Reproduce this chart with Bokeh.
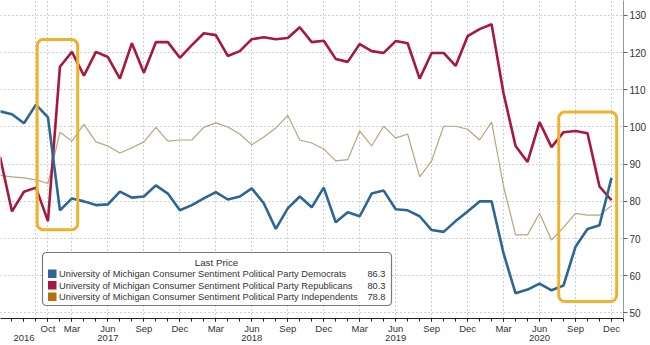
from bokeh.plotting import figure
from bokeh.models import Range1d, FixedTicker, BoxAnnotation, Label
from bokeh.embed import file_html
from bokeh.resources import INLINE

# observation index: 0 = Oct 2016, 2 = Mar 2017, then monthly to 47 = Dec 2020
obs = list(range(-4, 48))

democrats = [104.2, 103.4, 101.0, 106.0, 102.6, 77.6, 80.8, 80.0, 79.0, 79.2,
             82.6, 81.0, 81.3, 84.3, 82.1, 77.6, 79.0, 80.8, 82.5, 80.5,
             81.3, 83.5, 79.5, 72.6, 78.1, 81.3, 78.4, 83.7, 74.4, 77.1,
             76.0, 82.1, 82.9, 77.9, 77.6, 76.0, 72.3, 71.8, 74.7, 77.3,
             80.0, 80.0, 66.0, 55.3, 56.3, 57.9, 56.1, 57.4, 67.8, 72.6,
             73.6, 86.3]
republicans = [92.0, 77.3, 82.6, 83.7, 74.7, 116.2, 120.2, 113.8, 120.2, 118.8,
               113.0, 122.5, 114.6, 122.8, 122.8, 118.6, 122.0, 125.2, 124.7, 119.1,
               120.4, 123.6, 124.1, 123.6, 123.9, 126.8, 122.8, 123.2, 118.3, 117.5,
               122.3, 120.4, 119.9, 123.1, 122.5, 113.0, 119.9, 119.9, 116.4, 124.4,
               126.3, 127.6, 109.0, 94.9, 90.6, 101.3, 94.6, 98.6, 98.9, 98.3,
               84.0, 80.3]
independents = [87.0, 86.6, 86.3, 85.8, 84.8, 98.6, 96.2, 100.7, 96.0, 94.9,
                93.0, 94.4, 96.0, 99.9, 96.2, 96.5, 96.5, 99.9, 101.1, 100.0,
                98.1, 95.2, 97.3, 99.7, 103.1, 96.5, 95.7, 94.1, 90.9, 91.2,
                98.9, 94.9, 100.2, 97.0, 98.1, 86.6, 90.9, 100.2, 100.2, 99.4,
                96.5, 101.3, 84.0, 71.0, 71.0, 76.8, 69.6, 73.0, 76.8, 76.3,
                76.3, 78.8]

tick_pos = [-2, 0, 2, 5, 8, 11, 14, 17, 20, 23, 26, 29, 32, 35, 38, 41, 44, 47]
tick_text = [" \n2016", "Oct", "Mar", "Jun\n2017", "Sep", "Dec", "Mar", "Jun\n2018", "Sep",
             "Dec", "Mar", "Jun\n2019", "Sep", "Dec", "Mar", "Jun\n2020", "Sep", "Dec"]
grid_pos = [-1, 0, 2, 5, 8, 11, 14, 17, 20, 23, 26, 29, 32, 35, 38, 41, 44, 47]
y_ticks = [50, 60, 70, 80, 90, 100, 110, 120, 130]

series_names = ["University of Michigan Consumer Sentiment Political Party Democrats",
                "University of Michigan Consumer Sentiment Political Party Republicans",
                "University of Michigan Consumer Sentiment Political Party Independents"]

BLUE = "#2c6696"
RED = "#a8173c"
TAN = "#b8a47c"
TAN_KEY = "#b3700f"
ORANGE = "#f0b22c"

FW, FH = 623, 318
PXU = 11.99                      # pixels per observation in the reference
X0 = -4 + 0.5 / PXU
X1 = X0 + FW / PXU
Y1 = 134.0
Y0 = Y1 - FH / 3.72

p = figure(frame_width=FW, frame_height=FH, output_backend="svg", toolbar_location=None,
           x_range=Range1d(X0, X1), y_range=Range1d(Y0, Y1),
           y_axis_location="right", min_border=0, min_border_left=0,
           min_border_top=0, min_border_right=0, min_border_bottom=0,
           background_fill_color="white", border_fill_color="white")
p.outline_line_color = None

# grids
p.xgrid.ticker = FixedTicker(ticks=grid_pos)
p.ygrid.ticker = FixedTicker(ticks=y_ticks)
for g in (p.xgrid, p.ygrid):
    g.grid_line_color = "#a0a0a0"
    g.grid_line_dash = "1 3"
    g.grid_line_width = 1

# x axis
xa = p.xaxis[0]
xa.ticker = FixedTicker(ticks=tick_pos, minor_ticks=list(range(-4, 49)))
xa.major_label_overrides = {t: s for t, s in zip(tick_pos, tick_text)}
xa.major_label_text_font = "Liberation Sans"
xa.major_label_text_font_size = "9.5px"
xa.major_label_text_color = "#333333"
xa.major_label_text_line_height = 0.9
xa.major_label_standoff = 1
xa.axis_label_standoff = 0
xa.axis_line_color = "#222222"
xa.major_tick_line_color = "#222222"
xa.minor_tick_line_color = "#222222"
xa.major_tick_out = 3
xa.major_tick_in = 0
xa.minor_tick_out = 3
xa.minor_tick_in = 0

# y axis (right)
ya = p.yaxis[0]
ya.ticker = FixedTicker(ticks=y_ticks, minor_ticks=[])
ya.major_label_text_font = "Liberation Sans"
ya.major_label_text_font_size = "10px"
ya.major_label_text_color = "#333333"
ya.major_label_standoff = 2
ya.axis_label_standoff = 0
ya.axis_line_color = "#8899aa"
ya.major_tick_line_color = "#556677"
ya.major_tick_out = 4
ya.major_tick_in = 0

# series
p.line(obs, independents, line_color=TAN, line_width=1.2)
p.line(obs, republicans, line_color=RED, line_width=2.6)
p.line(obs, democrats, line_color=BLUE, line_width=2.6)

# highlight boxes
p.add_layout(BoxAnnotation(left=-0.9, right=2.48, top=123.5, bottom=72.4,
                           fill_alpha=0, line_color=ORANGE, line_alpha=1, line_width=3,
                           border_radius=6))
p.add_layout(BoxAnnotation(left=42.6, right=47.43, top=104.0, bottom=53.1,
                           fill_alpha=0, line_color=ORANGE, line_alpha=1, line_width=3,
                           border_radius=6))

# legend (layout in pixel space converted to data space)
def px(x):
    return X0 + (X1 - X0) * x / FW
def py(y):
    return Y1 - (Y1 - Y0) * y / FH

p.add_layout(BoxAnnotation(left=px(42), right=px(391), top=py(252), bottom=py(305),
                           fill_color="white", fill_alpha=1, line_color="#7a7a7a",
                           line_alpha=1, line_width=1.2, border_radius=4))
font = "Liberation Sans"
fs = "9.3px"
p.add_layout(Label(x=px(216), y=py(262), text="Last Price", text_align="center",
                   text_baseline="middle", text_font=font, text_font_size="9.8px",
                   text_color="#333333"))
rows = [(273.5, BLUE, series_names[0], democrats[-1]),
        (285, RED, series_names[1], republicans[-1]),
        (296.5, TAN_KEY, series_names[2], independents[-1])]
for yy, col, name, val in rows:
    p.add_layout(BoxAnnotation(left=px(47.5), right=px(56), top=py(yy - 4.5),
                               bottom=py(yy + 4), fill_color=col, fill_alpha=1,
                               line_color=None))
    p.add_layout(Label(x=px(58.5), y=py(yy), text=name, text_align="left",
                       text_baseline="middle", text_font=font, text_font_size=fs,
                       text_color="#333333"))
    p.add_layout(Label(x=px(385), y=py(yy), text=f"{val:.1f}", text_align="right",
                       text_baseline="middle", text_font=font, text_font_size=fs,
                       text_color="#333333"))

open("out.html", "w").write(file_html(p, INLINE))
